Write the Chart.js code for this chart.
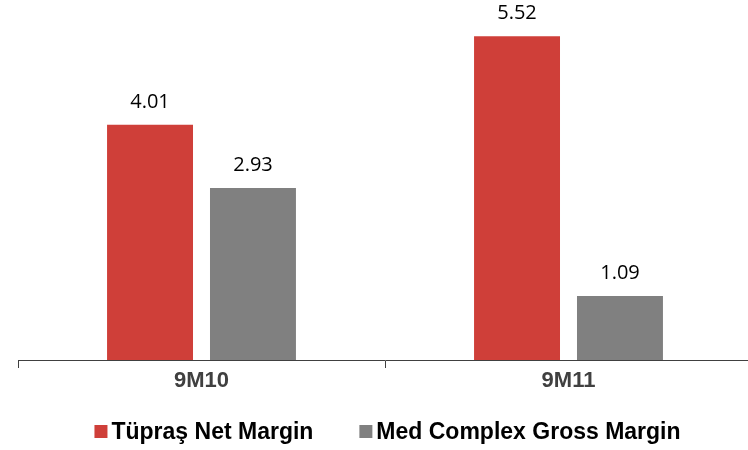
<!DOCTYPE html>
<html>
<head>
<meta charset="utf-8">
<title>Tüpraş margins</title>
<script src="https://cdn.jsdelivr.net/npm/chart.js@4/dist/chart.umd.min.js"></script>
<style>
  html, body { margin: 0; padding: 0; background: #ffffff; overflow: hidden; }
  #wrap { width: 748px; height: 450px; overflow: hidden; position: relative; }
  canvas { display: block; }
</style>
</head>
<body>
<div id="wrap"><canvas id="chart" width="760" height="450"></canvas></div>
<script>
// Periods on the x axis
const categories = ['9M10', '9M11'];
// Margins, $/bbl
const tuprasNetMargin = [4.01, 5.52];
const medComplexGrossMargin = [2.93, 1.09];
const seriesNames = ['Tüpraş Net Margin', 'Med Complex Gross Margin'];
const seriesColors = ['#CF3F39', '#808080'];

// Value written above each bar
const valueLabels = {
  id: 'valueLabels',
  afterDatasetsDraw(chart) {
    const ctx = chart.ctx;
    ctx.save();
    ctx.font = '20px "Open Sans", sans-serif';
    ctx.fillStyle = '#000000';
    ctx.textAlign = 'center';
    ctx.textBaseline = 'alphabetic';
    chart.data.datasets.forEach((ds, di) => {
      chart.getDatasetMeta(di).data.forEach((bar, i) => {
        ctx.fillText(ds.data[i].toFixed(2), bar.x, bar.y - 17);
      });
    });
    ctx.restore();
  }
};

// Legend row under the axis: small square, then bold name
const bottomLegend = {
  id: 'bottomLegend',
  afterDraw(chart) {
    const ctx = chart.ctx;
    const box = 13, boxGap = 4, itemGap = 46;
    ctx.save();
    ctx.font = 'bold 23px "Liberation Sans", Arial, sans-serif';
    const widths = chart.data.datasets.map(ds => ctx.measureText(ds.label).width);
    const total = widths.reduce((s, w) => s + box + boxGap + w, 0) + itemGap * (widths.length - 1);
    let x = 387.5 - total / 2;
    const baseY = 439;
    chart.data.datasets.forEach((ds, i) => {
      ctx.fillStyle = ds.backgroundColor;
      ctx.fillRect(x, 425, box, box);
      x += box + boxGap;
      ctx.fillStyle = '#000000';
      ctx.textAlign = 'left';
      ctx.textBaseline = 'alphabetic';
      ctx.fillText(ds.label, x, baseY);
      x += widths[i] + itemGap;
    });
    ctx.restore();
  }
};

new Chart(document.getElementById('chart'), {
  type: 'bar',
  data: {
    labels: categories,
    datasets: [
      { label: seriesNames[0], data: tuprasNetMargin, backgroundColor: seriesColors[0] },
      { label: seriesNames[1], data: medComplexGrossMargin, backgroundColor: seriesColors[1] }
    ]
  },
  options: {
    responsive: false,
    animation: false,
    devicePixelRatio: 1,
    layout: { padding: { left: 18, right: 8, top: 8, bottom: 50 } },
    datasets: { bar: { categoryPercentage: 0.561, barPercentage: 0.835 } },
    plugins: {
      legend: { display: false },
      tooltip: { enabled: false }
    },
    scales: {
      x: {
        afterFit(scale) { scale.height = 40; },
        grid: {
          display: true,
          drawOnChartArea: false,
          drawTicks: true,
          tickLength: 8,
          color: '#404040',
          offset: true
        },
        border: { display: true, color: '#404040', width: 1 },
        ticks: {
          padding: 0,
          color: '#404040',
          font: { family: '"Liberation Sans", Arial, sans-serif', size: 22, weight: 'bold' }
        }
      },
      y: {
        display: false,
        min: 0,
        max: 6
      }
    }
  },
  plugins: [valueLabels, bottomLegend]
});
</script>
</body>
</html>
